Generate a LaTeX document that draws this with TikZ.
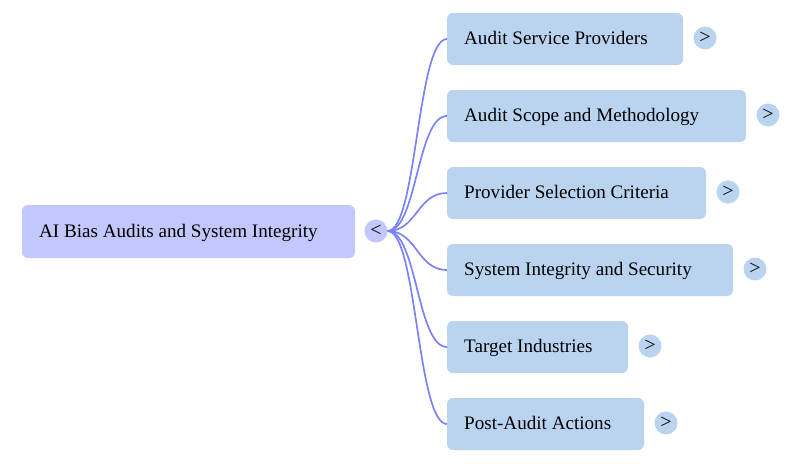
\documentclass[tikz,border=0pt]{standalone}
\usepackage{fontspec}
\setmainfont{Liberation Serif}
\definecolor{rootfill}{RGB}{195,200,252}
\definecolor{kidfill}{RGB}{186,212,240}
\definecolor{linkcol}{RGB}{123,131,247}
\begin{document}
\begin{tikzpicture}[x=1pt,y=-1pt,
  rootbox/.style={fill=rootfill,rounded corners=6pt,inner sep=0pt},
  kidbox/.style={fill=kidfill,rounded corners=6pt,inner sep=0pt},
  lbl/.style={anchor=base west,font=\fontsize{19.1}{22}\selectfont,inner sep=0pt},
  knob/.style={circle,minimum size=23pt,inner sep=0pt,font=\fontsize{20}{20}\selectfont},
  link/.style={draw=linkcol,line width=1.7pt}]
\useasboundingbox (0,0) rectangle (800,463);
% root
\path[rootbox] (22,205) rectangle (355,258);
\node[lbl] (root) at (39,237) {AI Bias Audits and System Integrity};
\node[knob,fill=rootfill] (rk) at (376,231) {\raisebox{0.5pt}{<}};
% children
\foreach \i/\top/\right/\txt in {
  1/13/683/Audit Service Providers,
  2/90/746/Audit Scope and Methodology,
  3/167/706/Provider Selection Criteria,
  4/244/733/System Integrity and Security,
  5/321/628/Target Industries,
  6/398/644/Post-Audit Actions}{
  \path[kidbox] (447,\top) rectangle (\right,\top+52);
  \coordinate (c\i) at (447,\top+26);
  \node[lbl] (t\i) at (464,\top+31) {\txt};
  \node[knob,fill=kidfill] (k\i) at (\right+22,\top+25) {\raisebox{0.5pt}{>}};
  \draw[link] (rk.east) .. controls (417,231) and (417,\top+26) .. (c\i);
}
\end{tikzpicture}
\end{document}
